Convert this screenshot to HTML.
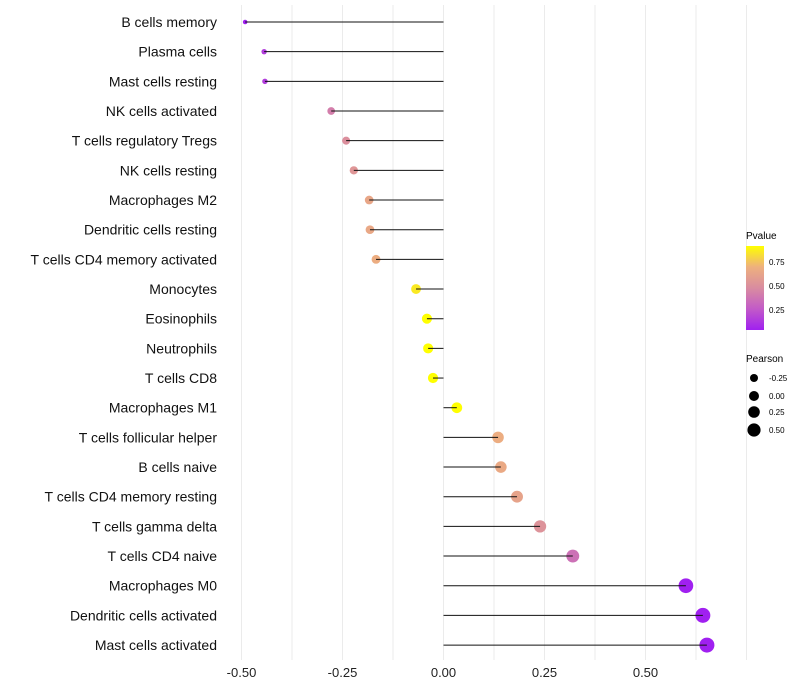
<!DOCTYPE html>
<html><head><meta charset="utf-8"><style>
body{margin:0;background:#fff}
svg{display:block;font-family:"Liberation Sans",sans-serif}
</style></head><body>
<svg id="c" width="800" height="700">
<defs><linearGradient id="pg" x1="0" y1="1" x2="0" y2="0">
<stop offset="0" stop-color="#A020F0"/><stop offset="0.25" stop-color="#C25AC8"/><stop offset="0.5" stop-color="#D98CA0"/><stop offset="0.75" stop-color="#EEB07E"/><stop offset="1" stop-color="#FFFF00"/>
</linearGradient></defs>
<g id="grid"></g><g id="dots"></g><g id="stems"></g><g id="ylab"></g><g id="xlab"></g>
<g>
<text x="746" y="239" font-size="10">Pvalue</text>
<rect x="746" y="246" width="18" height="84" fill="url(#pg)"/>
<text x="769" y="265" font-size="8">0.75</text>
<text x="769" y="289" font-size="8">0.50</text>
<text x="769" y="313" font-size="8">0.25</text>
</g>
<g>
<text x="746" y="362" font-size="10">Pearson</text>
<circle cx="754" cy="378" r="4"/><text x="769" y="381" font-size="8">-0.25</text>
<circle cx="754" cy="396" r="5"/><text x="769" y="399" font-size="8">0.00</text>
<circle cx="754" cy="412" r="5.8"/><text x="769" y="415" font-size="8">0.25</text>
<circle cx="754" cy="430" r="6.6"/><text x="769" y="433" font-size="8">0.50</text>
</g>
</svg>
<script>
const categories=["B cells memory","Plasma cells","Mast cells resting","NK cells activated","T cells regulatory  Tregs","NK cells resting","Macrophages M2","Dendritic cells resting","T cells CD4 memory activated","Monocytes","Eosinophils","Neutrophils","T cells CD8","Macrophages M1","T cells follicular helper","B cells naive","T cells CD4 memory resting","T cells gamma delta","T cells CD4 naive","Macrophages M0","Dendritic cells activated","Mast cells activated"];
const pearson=[-0.491,-0.444,-0.442,-0.278,-0.241,-0.222,-0.184,-0.182,-0.167,-0.068,-0.041,-0.038,-0.026,0.033,0.135,0.142,0.182,0.239,0.32,0.60,0.642,0.652];
const pvalue=[0.03,0.15,0.15,0.42,0.5,0.54,0.64,0.65,0.68,0.86,0.93,0.93,0.95,0.92,0.68,0.66,0.62,0.52,0.36,0.02,0.01,0.01];
const xTicks=[-0.5,-0.25,0,0.25,0.5];
const xTickLabels=["-0.50","-0.25","0.00","0.25","0.50"];
const NS="http://www.w3.org/2000/svg";
const x=v=>443.5+v*404;
const y=i=>22+i*29.67;
const stops=[[160,32,240],[194,90,200],[217,140,160],[238,176,126],[255,255,0]];
function col(p){
  const t=Math.max(0,Math.min(1,(p-0.04)/0.88))*4;
  const k=Math.min(3,Math.floor(t)),u=t-k;
  const c=stops[k].map((v,j)=>v+(stops[k+1][j]-v)*u);
  return `rgb(${c.map(Math.round).join(",")})`;
}
function mk(tag,at,par){const e=document.createElementNS(NS,tag);for(const k in at)e.setAttribute(k,at[k]);par.appendChild(e);return e;}
const grid=document.getElementById('grid'),dots=document.getElementById('dots'),stems=document.getElementById('stems'),yl=document.getElementById('ylab'),xl=document.getElementById('xlab');
for(let v=-0.5;v<=0.75;v+=0.125){
  const l=mk('line',{x1:x(v),x2:x(v),y1:5,y2:660,stroke:'#ebebeb','stroke-width':1},grid);
  
  
}
xTicks.forEach((v,i)=>{
  const t=mk('text',{x:x(v),y:677,'font-size':13,'text-anchor':'middle',fill:'#222'},xl);t.textContent=xTickLabels[i];
  
  
});
categories.forEach((c,i)=>{
  const t=mk('text',{x:217,y:y(i)+5,'font-size':14,'text-anchor':'end',fill:'#111'},yl);t.textContent=c;
  
  
  const d=mk('circle',{cx:x(pearson[i]),cy:y(i),r:Math.sqrt(Math.max(2.2,27.2+44.7*pearson[i])),fill:col(pvalue[i])},dots);
  
  
  const l=mk('line',{x1:x(0),x2:x(pearson[i]),y1:y(i),y2:y(i),stroke:'#111','stroke-width':1},stems);
  
  
});
</script>
</body></html>
